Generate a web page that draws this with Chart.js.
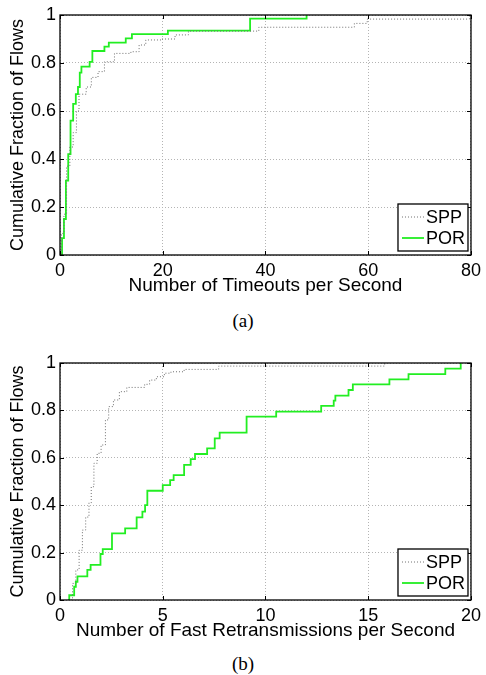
<!DOCTYPE html>
<html>
<head>
<meta charset="utf-8">
<script src="https://cdn.jsdelivr.net/npm/chart.js@4.4.1/dist/chart.umd.min.js"></script>
<style>
	body { margin: 0; background: #fff; width: 486px; height: 675px; position: relative; overflow: hidden; }
	.caixa { position: absolute; left: 0; width: 486px; }
	.legenda { position: absolute; left: 0; width: 486px; text-align: center; font-family: 'Liberation Serif', 'Times New Roman', serif; font-size: 19px; line-height: 22px; color: #000; }
</style>
</head>
<body>
<div class="caixa" style="top:0; height:300px"><canvas id="graficoTimeouts"></canvas></div>
<div class="legenda" style="top:310px">(a)</div>
<div class="caixa" style="top:348px; height:297px"><canvas id="graficoRetrans"></canvas></div>
<div class="legenda" style="top:653px">(b)</div>
<script>
const nomesSeries = ['SPP', 'POR'];

// (a) timeouts per second
const timeoutsSppX = [0, 0.3, 0.77, 1.28, 1.92, 2.56, 3.2, 3.7, 5.1, 6.1, 7.4, 8.65, 10.6, 13.8, 15.4, 16.7, 19.8, 22.4, 25, 38.7, 57.3, 59.8, 79.7];
const timeoutsSppY = [0, 0.09, 0.17, 0.37, 0.45, 0.51, 0.6, 0.67, 0.7, 0.74, 0.764, 0.805, 0.84, 0.847, 0.875, 0.896, 0.9, 0.917, 0.933, 0.949, 0.965, 0.983, 1];
const timeoutsPorX = [0, 0.4, 0.77, 1.15, 1.6, 2.05, 2.56, 3.08, 3.5, 3.85, 4.17, 5.77, 6.3, 8.65, 9.5, 12.8, 14, 21, 37, 48];
const timeoutsPorY = [0, 0.07, 0.15, 0.31, 0.42, 0.56, 0.63, 0.67, 0.7, 0.76, 0.785, 0.805, 0.85, 0.868, 0.885, 0.903, 0.92, 0.935, 0.985, 1];

// (b) fast retransmissions per second
const retransSppX = [0.4, 0.61, 0.77, 0.93, 1.09, 1.25, 1.41, 1.52, 1.65, 1.81, 2.0, 2.21, 2.37, 2.6, 2.89, 3.25, 4.12, 4.36, 4.69, 5.08, 5.4, 6.04, 7.72, 15.8];
const retransSppY = [0, 0.07, 0.127, 0.21, 0.295, 0.35, 0.41, 0.478, 0.577, 0.619, 0.654, 0.76, 0.816, 0.844, 0.879, 0.897, 0.91, 0.928, 0.942, 0.957, 0.963, 0.973, 0.987, 1];
const retransPorX = [0.45, 0.45, 0.69, 0.77, 0.85, 1.33, 1.49, 1.97, 2.08, 2.53, 3.17, 3.73, 4.01, 4.14, 4.25, 5.0, 5.36, 5.53, 6.04, 6.36, 6.57, 7.16, 7.53, 7.77, 9.08, 10.52, 12.71, 13.32, 13.4, 14.04, 14.25, 16.03, 16.96, 18.75, 19.5];
const retransPorY = [0, 0.02, 0.056, 0.077, 0.1, 0.127, 0.148, 0.194, 0.215, 0.281, 0.302, 0.349, 0.373, 0.4, 0.461, 0.485, 0.506, 0.527, 0.57, 0.594, 0.616, 0.64, 0.682, 0.706, 0.774, 0.795, 0.819, 0.841, 0.862, 0.886, 0.91, 0.931, 0.953, 0.976, 1];

const ticksTimeouts = [0, 20, 40, 60, 80];
const ticksRetrans = [0, 5, 10, 15, 20];
const ticksFracao = [0, 0.2, 0.4, 0.6, 0.8, 1];

const fonte = "'Liberation Sans', Arial, Helvetica, sans-serif";

const pontos = (xs, ys) => xs.map((x, i) => ({ x: x, y: ys[i] }));

// full box round the plot, with matlab-style inner ticks
const moldura = {
	id: 'moldura',
	afterDatasetsDraw(chart) {
		const { ctx, chartArea: a, scales } = chart;
		ctx.save();
		ctx.strokeStyle = '#000';
		ctx.lineWidth = 1;
		ctx.beginPath();
		scales.x.ticks.forEach(t => {
			const px = Math.round(scales.x.getPixelForValue(t.value)) + 0.5;
			ctx.moveTo(px, a.bottom); ctx.lineTo(px, a.bottom - 4);
			ctx.moveTo(px, a.top); ctx.lineTo(px, a.top + 4);
		});
		scales.y.ticks.forEach(t => {
			const py = Math.round(scales.y.getPixelForValue(t.value)) + 0.5;
			ctx.moveTo(a.left, py); ctx.lineTo(a.left + 4, py);
			ctx.moveTo(a.right, py); ctx.lineTo(a.right - 4, py);
		});
		ctx.stroke();
		ctx.lineWidth = 1.3;
		ctx.strokeRect(a.left, a.top, a.right - a.left, a.bottom - a.top);
		ctx.restore();
	},
};

// legend box in the lower right corner
const caixaLegenda = {
	id: 'caixaLegenda',
	afterDraw(chart) {
		const { ctx, chartArea: a } = chart;
		const w = 70, h = 47;
		const x = a.right - 3 - w, y = a.bottom - 4 - h;
		ctx.save();
		ctx.fillStyle = '#fff';
		ctx.fillRect(x, y, w, h);
		ctx.strokeStyle = '#000';
		ctx.lineWidth = 1.3;
		ctx.strokeRect(x, y, w, h);
		ctx.font = '18px ' + fonte;
		ctx.textBaseline = 'middle';
		chart.data.datasets.forEach((ds, i) => {
			const yy = y + 13 + i * 21;
			ctx.strokeStyle = ds.borderColor;
			ctx.lineWidth = ds.borderWidth;
			ctx.setLineDash(ds.borderDash || []);
			ctx.beginPath();
			ctx.moveTo(x + 4, yy);
			ctx.lineTo(x + 26, yy);
			ctx.stroke();
			ctx.setLineDash([]);
			ctx.fillStyle = '#000';
			ctx.fillText(ds.label, x + 28, yy + 1);
		});
		ctx.restore();
	},
};

function eixo(titulo, min, max, valores, lado) {
	return {
		type: 'linear',
		min: min,
		max: max,
		afterBuildTicks: s => { s.ticks = valores.map(v => ({ value: v })); },
		afterFit: s => {
			if (lado === 'x') s.height = 45; else s.width = 60;
		},
		ticks: {
			color: '#000',
			padding: lado === 'x' ? 5 : 4,
			maxRotation: 0,
			autoSkip: false,
			font: { family: fonte, size: 18 },
			callback: v => String(+v.toFixed(1)),
		},
		grid: { color: '#b4b4b4', drawTicks: false, lineWidth: 1 },
		border: { display: false, dash: [1, 2] },
		title: {
			display: true,
			text: titulo,
			color: '#000',
			font: { family: fonte, size: lado === 'x' ? 19 : 18 },
			padding: lado === 'x' ? { top: 0, bottom: 3 } : { top: 7, bottom: 0 },
		},
	};
}

function criaGrafico(id, tituloX, maxX, ticksX, spp, por) {
	new Chart(document.getElementById(id), {
		type: 'line',
		data: {
			datasets: [
				{
					label: nomesSeries[0],
					data: spp,
					borderColor: '#707070',
					borderWidth: 1,
					borderDash: [1, 2],
					pointRadius: 0,
					stepped: 'before',
					fill: false,
				},
				{
					label: nomesSeries[1],
					data: por,
					borderColor: '#22ee22',
					borderWidth: 1.8,
					pointRadius: 0,
					stepped: 'before',
					fill: false,
				},
			],
		},
		options: {
			responsive: true,
			maintainAspectRatio: false,
			animation: false,
			layout: { padding: { top: 15, right: 10, left: 0, bottom: 0 } },
			plugins: {
				legend: { display: false },
				tooltip: { enabled: false },
			},
			scales: {
				x: eixo(tituloX, 0, maxX, ticksX, 'x'),
				y: eixo('Cumulative Fraction of Flows', 0, 1, ticksFracao, 'y'),
			},
		},
		plugins: [moldura, caixaLegenda],
	});
}

criaGrafico('graficoTimeouts', 'Number of Timeouts per Second', 80, ticksTimeouts,
	pontos(timeoutsSppX, timeoutsSppY), pontos(timeoutsPorX, timeoutsPorY));
criaGrafico('graficoRetrans', 'Number of Fast Retransmissions per Second', 20, ticksRetrans,
	pontos(retransSppX, retransSppY), pontos(retransPorX, retransPorY));
</script>
</body>
</html>
